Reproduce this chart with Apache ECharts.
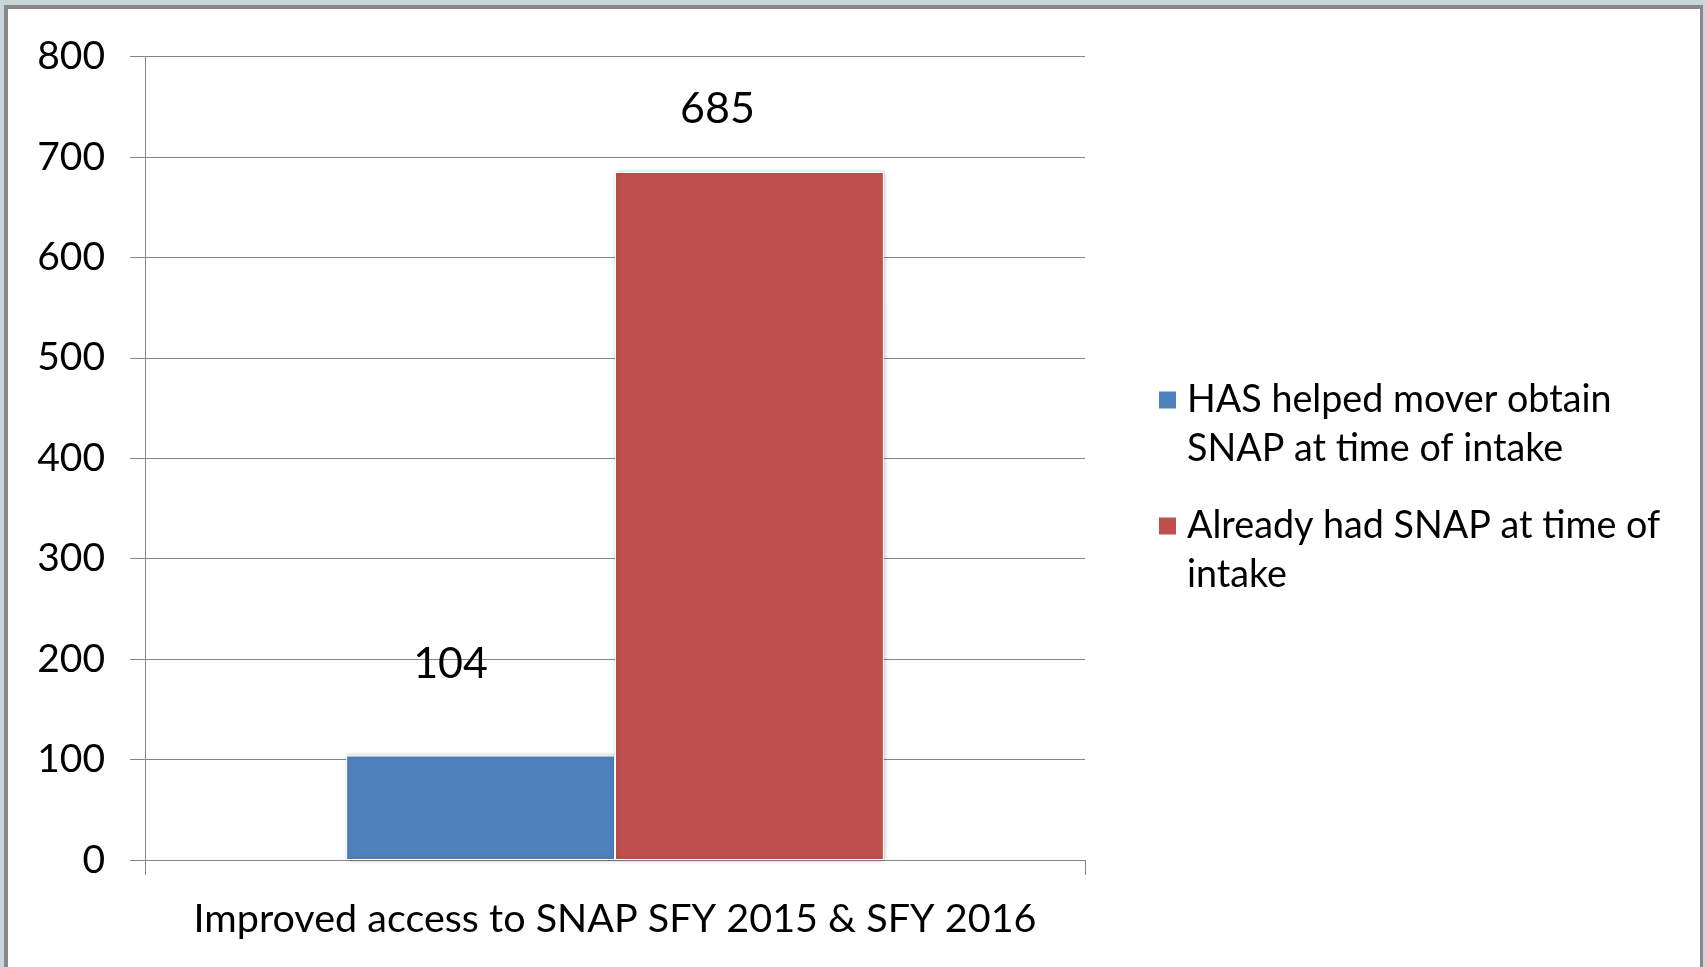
<!DOCTYPE html>
<html>
<head>
<meta charset="utf-8">
<script src="https://cdn.jsdelivr.net/npm/echarts@6/dist/echarts.min.js"></script>
<style>
  html, body { margin: 0; padding: 0; background: #ffffff; }
  #chart { position: absolute; left: 0; top: 0; width: 1705px; height: 967px; }
  .f { position: absolute; pointer-events: none; }
</style>
</head>
<body>
<div id="chart"></div>
<div class="f" style="left:0;top:0;width:1705px;height:5px;background:#c9d4db"></div>
<div class="f" style="left:0;top:0;width:4px;height:967px;background:#c9d4db"></div>
<div class="f" style="left:1703px;top:0;width:2px;height:967px;background:#c9d4db"></div>
<div class="f" style="left:4px;top:5px;width:1699px;height:4px;background:#888888"></div>
<div class="f" style="left:4px;top:5px;width:4px;height:962px;background:#888888"></div>
<div class="f" style="left:1700px;top:5px;width:3px;height:962px;background:#888888"></div>
<script>
const categories = ['Improved access to SNAP SFY 2015 & SFY 2016'];
const seriesNames = ['HAS helped mover obtain SNAP at time of intake', 'Already had SNAP at time of intake'];
const legendLabels = ['HAS helped mover obtain\nSNAP at time of intake', 'Already had SNAP at time of\nintake'];
const helpedValues = [104];
const alreadyValues = [685];
const yMin = 0, yMax = 800, yStep = 100;

const FONT = 'Lato';
const chart = echarts.init(document.getElementById('chart'), null, { renderer: 'canvas' });
const barStyle = (color) => ({
  color: color,
  borderColor: '#ffffff',
  borderWidth: 1,
  shadowColor: 'rgba(0,0,0,0.25)',
  shadowBlur: 4,
  shadowOffsetX: 1,
  shadowOffsetY: 0
});
const icon = 'path://M0,0h17v17h-17z M23,66';
chart.setOption({
  backgroundColor: '#ffffff',
  animation: false,
  grid: { left: 145, right: 620, top: 56.5, bottom: 107 },
  legend: {
    orient: 'vertical',
    left: 1159,
    top: 375.5,
    padding: 0,
    itemGap: 28,
    itemWidth: 23,
    itemHeight: 66,
    icon: icon,
    itemStyle: { borderWidth: 0, shadowBlur: 0, shadowOffsetX: 0 },
    data: seriesNames,
    formatter: (name) => legendLabels[seriesNames.indexOf(name)],
    textStyle: { fontFamily: FONT, fontSize: 37.7, lineHeight: 49, color: '#000000' }
  },
  xAxis: {
    type: 'category',
    data: categories,
    axisLine: { show: true, lineStyle: { color: '#868686', width: 1 } },
    axisTick: { show: true, length: 15, lineStyle: { color: '#868686' } },
    axisLabel: { fontFamily: FONT, fontSize: 39.5, lineHeight: 46, color: '#000000', margin: 36 }
  },
  yAxis: {
    type: 'value',
    min: yMin, max: yMax, interval: yStep,
    axisLine: { show: true, lineStyle: { color: '#868686', width: 1 } },
    axisTick: { show: true, length: 15, lineStyle: { color: '#868686' } },
    splitLine: { show: true, lineStyle: { color: '#868686', width: 1 } },
    axisLabel: { fontFamily: FONT, fontSize: 39, color: '#000000', margin: 40 }
  },
  series: [
    {
      name: seriesNames[0],
      type: 'bar',
      data: helpedValues,
      barGap: '0%',
      barCategoryGap: '42.8%',
      itemStyle: barStyle('#4f81bd'),
      label: { show: true, position: 'top', distance: 69, offset: [-30, 0],
               fontFamily: FONT, fontSize: 43, lineHeight: 44, color: '#000000' }
    },
    {
      name: seriesNames[1],
      type: 'bar',
      data: alreadyValues,
      barGap: '0%',
      barCategoryGap: '42.8%',
      itemStyle: barStyle('#c0504d'),
      label: { show: true, position: 'top', distance: 41, offset: [-32, 0],
               fontFamily: FONT, fontSize: 43, lineHeight: 44, color: '#000000' }
    }
  ]
});
</script>
</body>
</html>
